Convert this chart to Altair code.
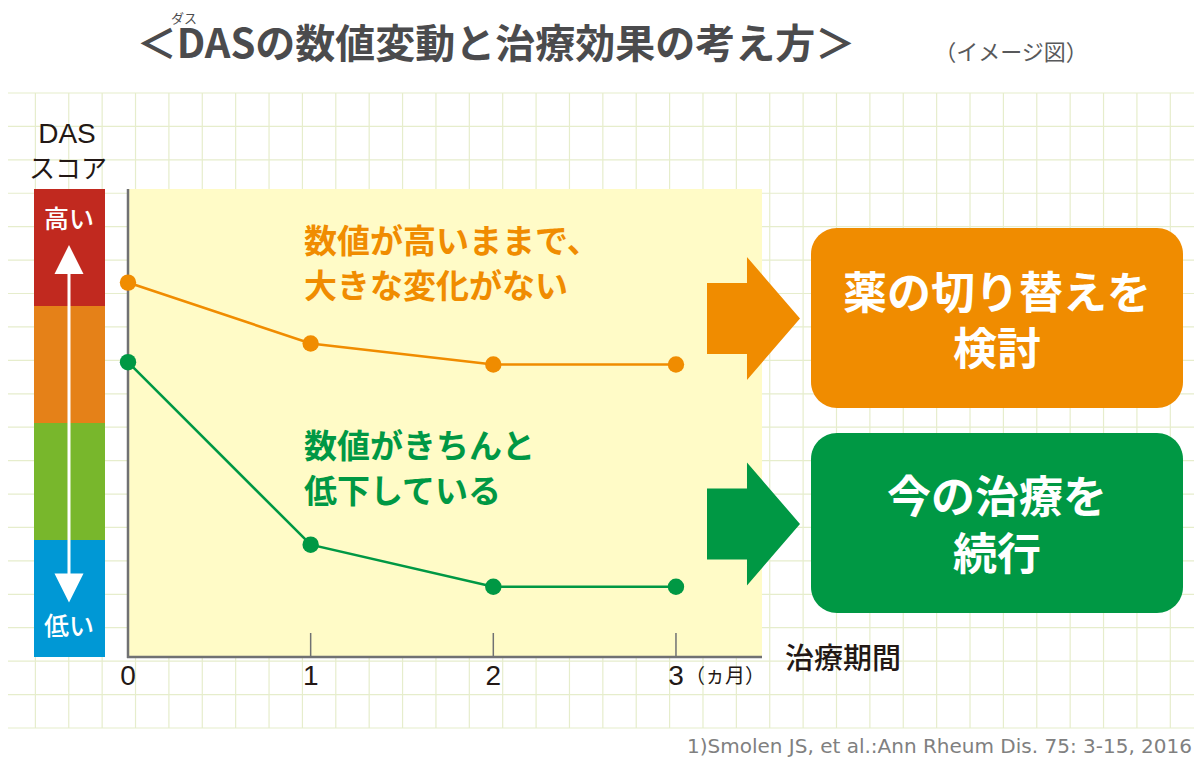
import altair as alt
import pandas as pd

# ---------------- data ----------------
months = [0, 1, 2, 3]
tick_labels = ["0", "1", "2", "3"]
orange_das = [80, 67, 62.5, 62.5]
green_das = [63, 24, 15, 15]
series_names = ["数値が高いままで", "数値がきちんと低下"]

band_lo = [75, 50, 25, 0]
band_hi = [100, 75, 50, 25]
band_colors = ["#c1291f", "#e58118", "#78b72c", "#0098d5"]

title_text = "＜DASの数値変動と治療効果の考え方＞"
ruby_text = "ダス"
image_note = "（イメージ図）"
yaxis_title = ["DAS", "スコア"]
high_low = ["高い", "低い"]
orange_note = ["数値が高いままで、", "大きな変化がない"]
green_note = ["数値がきちんと", "低下している"]
orange_box = ["薬の切り替えを", "検討"]
green_box = ["今の治療を", "続行"]
month_unit = "（ヵ月）"
xaxis_title = "治療期間"
citation = "1)Smolen JS, et al.:Ann Rheum Dis. 75: 3-15, 2016"

# ---------------- styles ----------------
ORANGE = "#f08c00"
GREEN = "#009844"
YELLOW = "#fffbc7"
GRID = "#e6edcc"
AXIS = "#707173"
INK = "#231815"
TITLE = "#4b4b4d"
FONT = "Noto Sans CJK JP"

W, H = 634, 468


def one():
    return pd.DataFrame({"k": [0]})


def text_layer(s, x, y, size, color, weight="normal", align="center", font=FONT, line_height=None):
    kw = dict(text=s, fontSize=size, color=color, fontWeight=weight,
              align=align, baseline="middle", font=font)
    if line_height is not None:
        kw["lineHeight"] = line_height
    return alt.Chart(one()).mark_text(**kw).encode(x=alt.value(x), y=alt.value(y))


# background grid (decoration)
grid_x = [-126 + 33.38 * k for k in range(37)]
grid_y = [-96 + 33.42 * j for j in range(20)]
vgrid = alt.Chart(pd.DataFrame({"gx": grid_x})).mark_rule(color=GRID, strokeWidth=1.2).encode(
    x=alt.X("gx:Q", scale=None, axis=None), y=alt.value(-96), y2=alt.value(539))
hgrid = alt.Chart(pd.DataFrame({"gy": grid_y})).mark_rule(color=GRID, strokeWidth=1.2).encode(
    y=alt.Y("gy:Q", scale=None, axis=None), x=alt.value(-126), x2=alt.value(1074))

plot_bg = alt.Chart(one()).mark_rect(color=YELLOW).encode(
    x=alt.value(0), x2=alt.value(W), y=alt.value(0), y2=alt.value(H))

xscale = alt.Scale(domain=[0, 3.471], nice=False, zero=False)
yscale = alt.Scale(domain=[0, 100], nice=False, zero=False)

# DAS colour bar
bands = pd.DataFrame({"lo": band_lo, "hi": band_hi, "c": band_colors})
bar = alt.Chart(bands).mark_rect().encode(
    x=alt.value(-94), x2=alt.value(-23),
    y=alt.Y("lo:Q", scale=yscale, axis=None), y2="hi:Q",
    color=alt.Color("c:N", scale=None))
shaft = alt.Chart(one()).mark_rule(color="white", strokeWidth=3).encode(
    x=alt.value(-59), y=alt.value(75), y2=alt.value(396))
up_head = alt.Chart(one()).mark_point(
    shape="M0,-1 L1,1 L-1,1 Z", filled=True, size=841, color="white", opacity=1, strokeWidth=0
).encode(x=alt.value(-59), y=alt.value(70.5))
down_head = alt.Chart(one()).mark_point(
    shape="M0,1 L1,-1 L-1,-1 Z", filled=True, size=841, color="white", opacity=1, strokeWidth=0
).encode(x=alt.value(-59), y=alt.value(399))

# axes
yaxis_line = alt.Chart(one()).mark_rule(color=AXIS, strokeWidth=2.5).encode(
    x=alt.value(0), y=alt.value(0), y2=alt.value(H + 1))
xaxis_line = alt.Chart(one()).mark_rule(color=AXIS, strokeWidth=2.5).encode(
    y=alt.value(H), x=alt.value(-1), x2=alt.value(W))
ticks = alt.Chart(pd.DataFrame({"month": months[1:]})).mark_rule(color=AXIS, strokeWidth=1.5).encode(
    x=alt.X("month:Q", scale=xscale, axis=None), y=alt.value(444), y2=alt.value(H))
tick_text = alt.Chart(pd.DataFrame({"month": months, "lab": tick_labels})).mark_text(
    fontSize=28, color=INK, font="Liberation Sans", baseline="middle").encode(
    x=alt.X("month:Q", scale=xscale, axis=None), y=alt.value(488), text="lab:N")

# data series
df = pd.DataFrame({
    "month": months * 2,
    "das": orange_das + green_das,
    "series": [series_names[0]] * 4 + [series_names[1]] * 4,
})
color = alt.Color("series:N", scale=alt.Scale(domain=series_names, range=[ORANGE, GREEN]), legend=None)
lines = alt.Chart(df).mark_line(strokeWidth=2.6).encode(
    x=alt.X("month:Q", scale=xscale, axis=None),
    y=alt.Y("das:Q", scale=yscale, axis=None),
    color=color, detail="series:N")
points = alt.Chart(df).mark_circle(size=270, opacity=1).encode(
    x=alt.X("month:Q", scale=xscale, axis=None),
    y=alt.Y("das:Q", scale=yscale, axis=None),
    color=color)

# block arrows and boxes
ARROW = "M-0.756,-0.577 L-0.106,-0.577 L-0.106,-1 L0.756,0 L-0.106,1 L-0.106,0.577 L-0.756,0.577 Z"
arrow_o = alt.Chart(one()).mark_point(shape=ARROW, filled=True, size=15129, color=ORANGE,
                                      opacity=1, strokeWidth=0).encode(x=alt.value(625.5), y=alt.value(129.5))
arrow_g = alt.Chart(one()).mark_point(shape=ARROW, filled=True, size=15129, color=GREEN,
                                      opacity=1, strokeWidth=0).encode(x=alt.value(625.5), y=alt.value(335))
box_o = alt.Chart(one()).mark_rect(color=ORANGE, cornerRadius=26).encode(
    x=alt.value(683), x2=alt.value(1055), y=alt.value(39), y2=alt.value(219))
box_g = alt.Chart(one()).mark_rect(color=GREEN, cornerRadius=26).encode(
    x=alt.value(683), x2=alt.value(1055), y=alt.value(244), y2=alt.value(424))

layers = [
    vgrid, hgrid, plot_bg, bar, shaft, up_head, down_head,
    yaxis_line, xaxis_line, ticks, tick_text, lines, points,
    arrow_o, arrow_g, box_o, box_g,
    text_layer(title_text, 368, -143, 40, TITLE, "bold"),
    text_layer(ruby_text, 56, -170, 13, TITLE),
    text_layer(image_note, 883, -136, 22, "#58595b"),
    text_layer(yaxis_title[0], -61, -54, 28, INK, "normal", "center", "Liberation Sans"),
    text_layer(yaxis_title[1], -60, -19, 26, INK),
    text_layer(high_low[0], -59, 31, 25, "white", 500),
    text_layer(high_low[1], -59, 438, 25, "white", 500),
    text_layer(orange_note, 176, 54, 33, ORANGE, "bold", "left", FONT, 45),
    text_layer(green_note, 176, 259, 33, GREEN, "bold", "left", FONT, 45),
    text_layer(orange_box, 869, 107, 44, "white", "bold", "center", FONT, 56),
    text_layer(green_box, 869, 311, 44, "white", "bold", "center", FONT, 57),
    text_layer(month_unit, 557, 488, 20, INK, "normal", "left"),
    text_layer(xaxis_title, 657, 471, 29, INK, 500, "left"),
    text_layer(citation, 1064, 558, 20, "#808080", "normal", "right", "DejaVu Sans"),
]

chart = alt.layer(*layers).properties(
    width=W, height=H,
    autosize=alt.AutoSizeParams(type="none"),
    padding={"left": 120, "top": 181, "right": 432, "bottom": 104},
    background="white",
).configure_view(stroke=None)

chart.save("out.html", embed_options={"renderer": "svg", "actions": False})
